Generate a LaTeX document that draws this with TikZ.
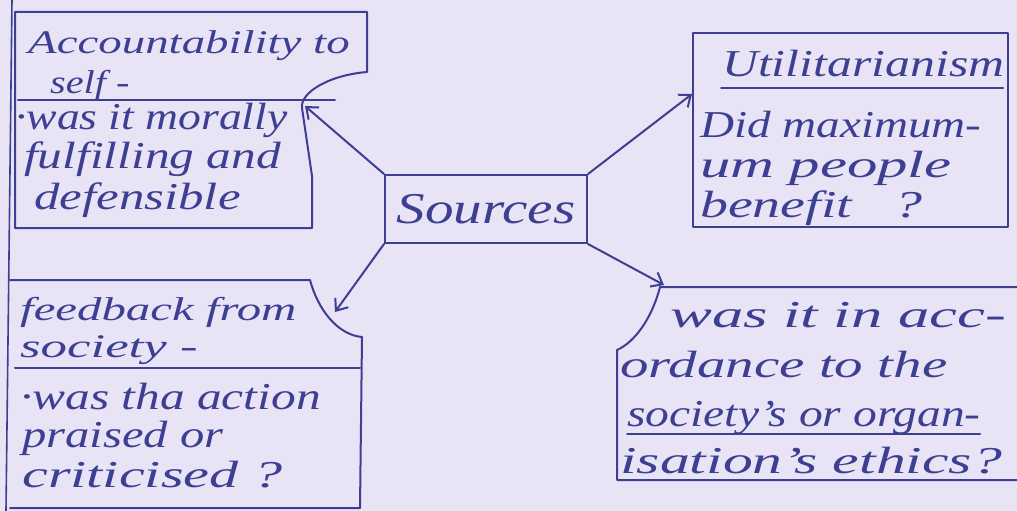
\documentclass[tikz,border=0pt]{standalone}
\usepackage{fontspec}
\usepackage{graphicx}
\setmainfont{Liberation Serif}
\usetikzlibrary{arrows.meta}
\definecolor{paper}{HTML}{E9E3F6}
\definecolor{ink}{HTML}{3C3F92}
\newcommand\hwt[2]{\scalebox{#1}[1]{#2}}
\begin{document}
\begin{tikzpicture}[x=1pt,y=-1pt,
  inkline/.style={draw=ink,line width=2pt,line join=round,line cap=round},
  arr/.style={inkline,-{Straight Barb[length=10pt,width=16pt,line width=2pt]}},
  hw/.style={text=ink,anchor=base west,inner sep=0pt,font=\fontsize{38}{40}\selectfont\itshape},
  hws/.style={hw,font=\fontsize{33}{35}\selectfont\itshape}]
\fill[paper] (0,0) rectangle (1017,511);
\useasboundingbox (0,0) rectangle (1017,511);
% margin line
\draw[inkline,line width=1.6pt] (12,0) -- (6,511);
% top-left box
\draw[inkline] (15,12) -- (367,12) -- (367,72) .. controls (330,75) and (300,92) .. (302,108) -- (312,176) -- (312,228) -- (15,228) -- cycle;
\draw[inkline] (18,100) -- (335,100);
\node[hws] (tl1) at (28,54) {\hwt{1.42}{Accountability to}};
\node[hws] (tl2) at (50,93) {\hwt{1.22}{self -}};
\node[hw] (tl3) at (15,129) {\hwt{1.2}{·was it morally}};
\node[hw] (tl4) at (24,168) {\hwt{1.3}{fulfilling and}};
\node[hw] (tl5) at (34,209) {\hwt{1.34}{defensible}};
% bottom-left box
\draw[inkline] (10,280) -- (310,280) .. controls (318,310) and (338,335) .. (362,337) -- (360,508) -- (10,508);
\draw[inkline] (15,368) -- (360,368);
\node[hws] (bl1) at (20,320) {\hwt{1.48}{feedback from}};
\node[hws] (bl2) at (20,357) {\hwt{1.6}{society -}};
\node[hw] (bl3) at (20,409) {\hwt{1.3}{·was tha action}};
\node[hw] (bl4) at (22,447) {\hwt{1.28}{praised or}};
\node[hw] (bl5) at (22,487) {\hwt{1.53}{criticised ?}};
% top-right box
\draw[inkline] (693,33) rectangle (1008,227);
\node[hw] (tr1) at (722,77) {\hwt{1.31}{Utilitarianism}};
\draw[inkline] (721,88) -- (1003,88);
\node[hw] (tr2) at (700,137) {\hwt{1.24}{Did maximum-}};
\node[hw] (tr3) at (700,177) {\hwt{1.6}{um people}};
\node[hw] (tr4) at (700,217) {\hwt{1.47}{benefit \ \ ?}};
% bottom-right box
\draw[inkline] (1017,287) -- (660,287) .. controls (652,318) and (635,342) .. (617,350) -- (617,480) -- (1017,480);
\node[hw] (br1) at (670,327) {\hwt{1.65}{was it in acc-}};
\node[hw] (br2) at (620,377) {\hwt{1.5}{ordance to the}};
\node[hw] (br3) at (627,426) {\hwt{1.25}{society's or organ-}};
\draw[inkline] (627,434) -- (980,434);
\node[hw] (br4) at (620,473) {\hwt{1.57}{isation's ethics?}};
% centre
\node[draw=ink,line width=2pt,text=ink,minimum width=202pt,minimum height=68pt,inner sep=0pt,font=\fontsize{44}{46}\selectfont\itshape] (src) at (486,209) {\hwt{1.3}{Sources}};
% arrow targets
\coordinate (ta) at (305,106);
\coordinate (tb) at (335,312);
\coordinate (tc) at (692,94);
\coordinate (td) at (664,285);
\draw[arr] (src.north west) -- (ta);
\draw[arr] (src.south west) -- (tb);
\draw[arr] (src.north east) -- (tc);
\draw[arr] (src.south east) -- (td);
\end{tikzpicture}
\end{document}
